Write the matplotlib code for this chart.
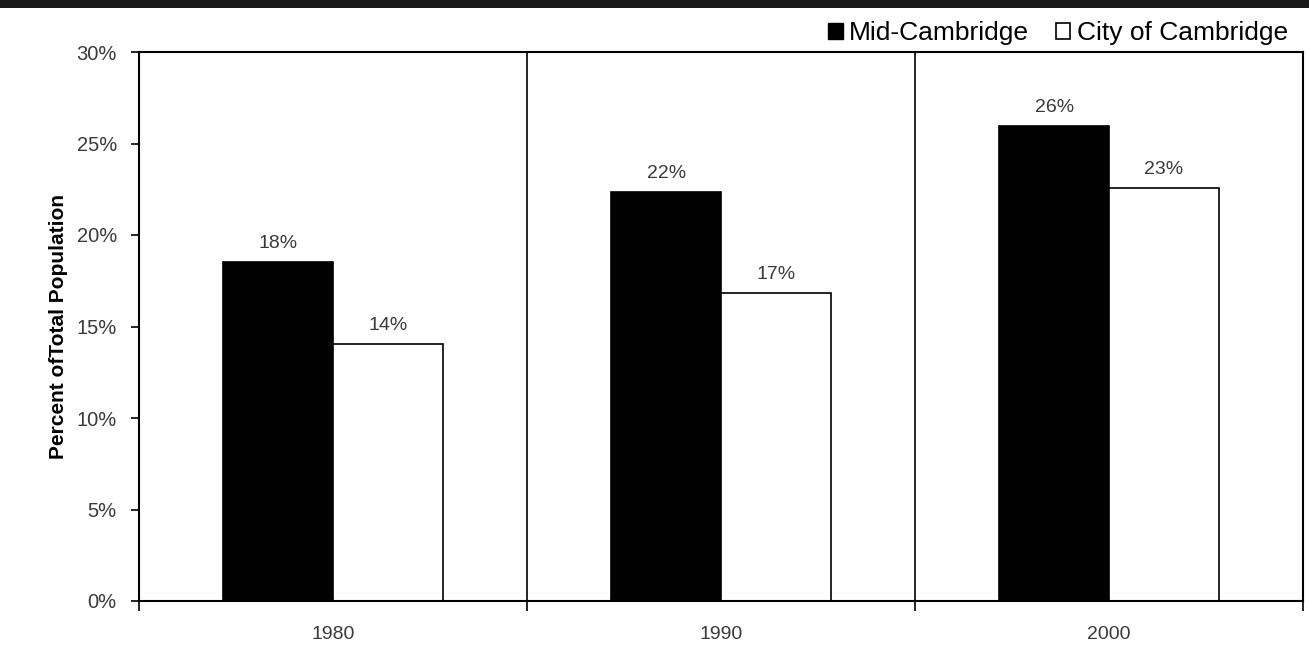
import matplotlib
matplotlib.use("Agg")
import matplotlib.pyplot as plt
from matplotlib.patches import Patch, Rectangle
from matplotlib.ticker import FixedLocator
import numpy as np

years = ["1980", "1990", "2000"]
mid_cambridge = [18.5, 22.35, 25.96]
city_cambridge = [14.04, 16.83, 22.57]
mid_labels = ["18%", "22%", "26%"]
city_labels = ["14%", "17%", "23%"]
series_names = ["Mid-Cambridge", "City of Cambridge"]
y_ticks = [0, 5, 10, 15, 20, 25, 30]

plt.rcParams['font.family'] = ['Liberation Sans', 'DejaVu Sans']

fig = plt.figure(figsize=(13.09, 6.52), dpi=100)
ax = fig.add_axes([139/1309, 1-601/652, (1303-139)/1309, (601-52)/652])

x = np.arange(len(years))
w = 0.283
b1 = ax.bar(x - w/2, mid_cambridge, w, color="black", edgecolor="black", linewidth=1.2)
b2 = ax.bar(x + w/2, city_cambridge, w, color="white", edgecolor="black", linewidth=1.2)

for rect, lab in zip(b1, mid_labels):
    ax.text(rect.get_x() + rect.get_width()/2, rect.get_height() + 0.55, lab,
            ha="center", va="bottom", fontsize=14, color="#3a3a3a")
for rect, lab in zip(b2, city_labels):
    ax.text(rect.get_x() + rect.get_width()/2, rect.get_height() + 0.55, lab,
            ha="center", va="bottom", fontsize=14, color="#3a3a3a")

ax.set_xlim(-0.5, len(years) - 0.5)
ax.set_ylim(0, 30)
for xb in np.arange(0.5, len(years) - 0.5, 1):
    ax.axvline(xb, color="black", linewidth=1.2)

ax.set_yticks(y_ticks)
ax.set_yticklabels([f"{t}%" for t in y_ticks])
ax.set_xticks(x)
ax.set_xticklabels(years)
ax.xaxis.set_minor_locator(FixedLocator(np.arange(-0.5, len(years), 1)))
ax.tick_params(axis="x", which="major", length=0, pad=18, labelsize=14, labelcolor="#3a3a3a")
ax.tick_params(axis="x", which="minor", length=7, width=1.2, direction="out")
ax.tick_params(axis="y", length=6, width=1.2, direction="out", labelsize=14.5, labelcolor="#3a3a3a", pad=10)
for s in ax.spines.values():
    s.set_linewidth(1.5)

ax.set_ylabel("Percent ofTotal Population", fontsize=15, fontweight="bold", labelpad=6)

handles = [Patch(facecolor="black", edgecolor="black", label=series_names[0]),
           Patch(facecolor="white", edgecolor="black", linewidth=1.2, label=series_names[1])]
fig.legend(handles=handles, loc="center right", bbox_to_anchor=(0.992, 1-33/652), ncol=2,
           frameon=False, fontsize=19, handlelength=0.55, handleheight=0.55,
           handletextpad=0.25, columnspacing=1.0, borderaxespad=0)

fig.add_artist(Rectangle((0, 1-8/652), 1, 8/652, transform=fig.transFigure,
                         facecolor="#1a1a1a", edgecolor="none"))

fig.savefig("out.png", dpi=100)
